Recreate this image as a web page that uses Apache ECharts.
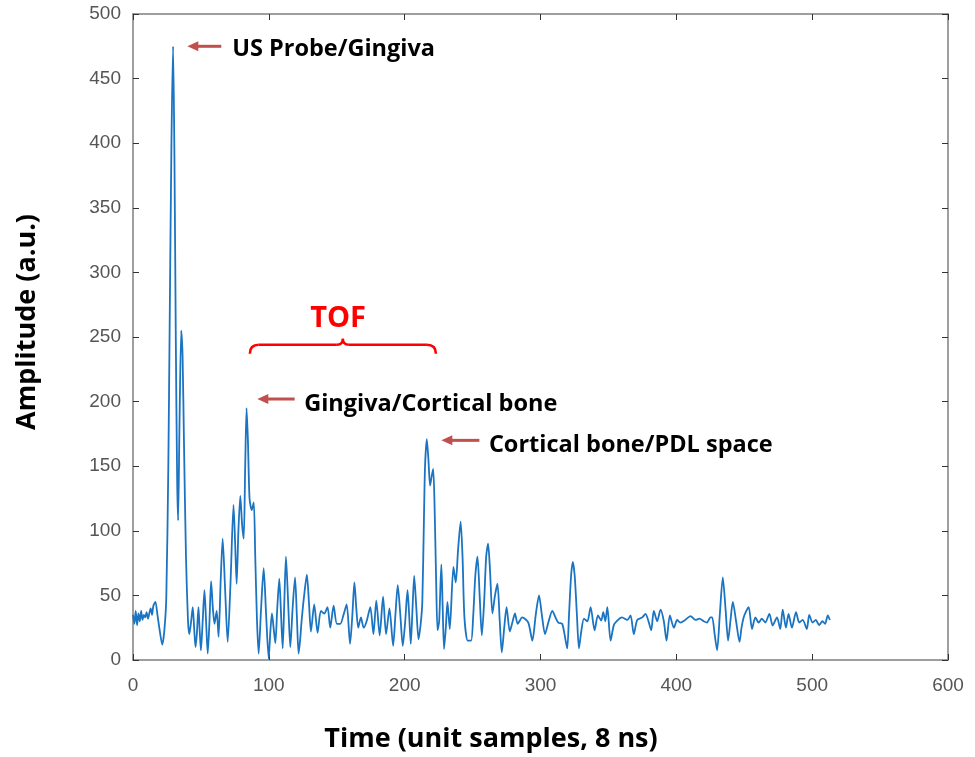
<!DOCTYPE html>
<html>
<head>
<meta charset="utf-8">
<script src="https://cdn.jsdelivr.net/npm/echarts@6/dist/echarts.min.js"></script>
<style>
html,body{margin:0;padding:0;background:#fff;}
#chart{width:975px;height:757px;}
</style>
</head>
<body>
<div id="chart"></div>
<script>
// ---- data ----
const times = [0,1,2,3,4,5,6,7,8,9,10,11,12,13,14,15,16.5,18,19.5,21.5,23,24.5,26,27,28.3,29.5,30.5,31.5,32.5,33.2,34.2,35.5,36.5,37.5,39,40.5,41.5,
42.8,44,45,46,47,48.2,49,50,51.3,52.6,53.8,55,56.3,57.5,58.8,60,61.6,63,64.5,66,67.8,69.7,71.8,74,75.2,76.3,77.6,79,80.3,81.5,82.6,83.6,84.6,85.8,87.4,88.9,90,91.3,92.5,94.3,96.2,98,99.9,101,102.3,103.5,104.8,106.2,107.7,109,110.2,111.4,112.6,114.2,115.8,117.5,119.3,120.6,121.9,123,124.1,126,128,129.5,131,133.4,135.9,138.3,140.8,143.2,145.2,147.7,150.1,152.6,155,157.3,159.8,161.5,163,164.4,165.8,167.8,169.8,172,174.7,177,179.1,181.6,184.1,186.3,188.8,191.5,193.2,194.9,196.8,198.6,200.4,202.1,203.3,204.5,205.8,207,208.6,210.2,211.9,213,214.2,215,216.3,217.5,218.7,220,221,222,223.2,224.2,225.4,227,228,229,230.3,231.5,233.2,235.9,237.6,239.3,241.2,242.6,244,246.4,248.9,250.5,252,253.6,255.2,256.8,258.5,260,261.4,262.8,264.6,266.5,268.3,270,271.5,273.3,275,277.4,279.5,281.2,283.2,286.6,291,294,296.5,298.9,301,303.3,306,308.7,311,313.1,316,318.5,319.7,321,322.5,323.8,325.2,326.8,328.3,330,332,334.5,336.9,339.8,342.3,344.7,346.2,347.7,349.2,351.6,354,356.5,360,363.9,366.3,368.7,371.2,374.9,377.3,379.5,381.5,383.4,385.9,388.4,390.8,392.8,395.2,398.2,400.6,403,406.5,410.4,414.1,417,420.2,422.6,425.1,426.4,428.2,430,432,434.2,436.2,438.1,439.8,441.6,444,446.5,448,449.6,451.5,453.3,455.7,458.2,460.6,463,465.5,468.5,470.9,474.1,476.5,478.3,480.7,482.6,485.1,488.1,490.5,493,496.1,497.8,500.3,502.7,505.1,507.6,509.5,511.5,513];
const amps = [35,28,38,27,36,30,38,31,35,33,37,32,36,40,35,42,45,35,24,12,22,48,150,260,400,475,390,250,140,108,180,255,235,170,80,30,20,
30,41,25,10,20,41,25,7.5,30,54,30,5,30,61,40,28,38,18,60,94,55,14,60,120,90,59,100,127,105,94,150,195,170,125,116,122,80,30,5,40,71,35,1,20,36,25,13,40,63,35,9,45,80,45,10,40,64,35,5,15,30,50,66,45,22,43,21,38,36,41,25,42,28,28,35,43,12.5,35,60,40,25,33,25,30,41,20,46,19,49,20,40,11,35,58,35,11,30,54,35,12.5,40,65,40,16,29,45,110,150,171,155,135,143,148,120,60,23,30,74,40,8.5,25,45,24,72,60,85,107,80,33,15,15,35,65,80,50,19,45,80,90,70,36,50,59,30,6,25,41,22,30,36,28,33,29,15,35,50,35,20,30,38,33,29,28,15,9,35,65,76,65,35,9,22,32,30,41,23,34.5,30.5,37,30,41,15,27,30.5,33,31,34.5,20,31,33,35.7,30,23,38,30,39,30,15,34.5,25,31,29,31,34,31,32,30,29,33,33,20,7.4,35,64,40,15,30,45,30,14,25,33,38,41,24,33,29,32,29,35.7,26.7,33,24,39,25,35.7,25,37,29,31,24,35,29,31,27,30,28,34.5,31];
const xTicks = [0,100,200,300,400,500,600];
const yTicks = [0,50,100,150,200,250,300,350,400,450,500];
const xTitle = 'Time (unit samples, 8 ns)';
const yTitle = 'Amplitude (a.u.)';
// annotations: [label, arrowFromX, arrowToX, arrowY, textX, textY]
const notes = [
  ['US Probe/Gingiva', 65, 40, 475, 73, 473],
  ['Gingiva/Cortical bone', 119, 91.5, 202, 126, 198],
  ['Cortical bone/PDL space', 255, 227, 170, 262, 166]
];
const tof = {label:'TOF', x1:86, x2:223, y:241, tx:151, ty:264};

const seriesData = times.map((t,i)=>[t, amps[i]]);
const chart = echarts.init(document.getElementById('chart'));
const frameColor = '#7f7f7f';
const axisCommon = {
  min:0, interval:100,
  axisLine:{show:true, onZero:false, lineStyle:{color:frameColor, width:1.5}},
  axisTick:{show:true, inside:true, length:6, lineStyle:{color:'#333', width:1}},
  splitLine:{show:false}
};
chart.setOption({
  animation:false,
  grid:{left:133, right:27, top:14, bottom:97, show:false},
  xAxis:[
    Object.assign({}, axisCommon, {type:'value', max:600, position:'bottom',
      axisLabel:{fontFamily:'Liberation Sans', fontSize:19, color:'#555', margin:16}}),
    Object.assign({}, axisCommon, {type:'value', max:600, position:'top', axisLabel:{show:false}})
  ],
  yAxis:[
    Object.assign({}, axisCommon, {type:'value', max:500, interval:50, position:'left',
      axisLabel:{fontFamily:'Liberation Sans', fontSize:19, color:'#555', margin:12}}),
    Object.assign({}, axisCommon, {type:'value', max:500, interval:50, position:'right', axisLabel:{show:false}})
  ],
  series:[{
    type:'line', data:seriesData, showSymbol:false, smooth:0.25,
    lineStyle:{color:'#1a74c2', width:1.8}, xAxisIndex:0, yAxisIndex:0
  }]
});

function px(x,y){ return chart.convertToPixel({xAxisIndex:0, yAxisIndex:0}, [x,y]); }
const arrowColor = '#c0504d';
const g = [];
// axis titles
g.push({type:'text', x:491, y:739, style:{text:xTitle, fontFamily:'Open Sans', fontWeight:'bold', fontSize:27, fill:'#000', align:'center', verticalAlign:'middle'}});
g.push({type:'text', x:27, y:322, rotation:Math.PI/2, style:{text:yTitle, fontFamily:'Open Sans', fontWeight:'bold', fontSize:27, fill:'#000', align:'center', verticalAlign:'middle'}});
notes.forEach(n=>{
  const a = px(n[1], n[3]), b = px(n[2], n[3]);
  g.push({type:'line', shape:{x1:a[0], y1:a[1], x2:b[0]+9, y2:b[1]}, style:{stroke:arrowColor, lineWidth:3}});
  g.push({type:'polygon', shape:{points:[[b[0],b[1]],[b[0]+11,b[1]-5],[b[0]+11,b[1]+5]]}, style:{fill:arrowColor}});
  const t = px(n[4], n[5]);
  g.push({type:'text', x:t[0], y:t[1], style:{text:n[0], fontFamily:'Open Sans', fontWeight:'bold', fontSize:23.5, fill:'#000', verticalAlign:'middle', align:'left'}});
});
const l = px(tof.x1, tof.y), r = px(tof.x2, tof.y), m = px((tof.x1+tof.x2)/2, tof.y);
const y0 = l[1] - 4;
const braceStyle = {stroke:'#ff0000', lineWidth:2.5, fill:null};
g.push({type:'bezierCurve', shape:{x1:l[0], y1:y0+9, cpx1:l[0], cpy1:y0, x2:l[0]+9, y2:y0}, style:braceStyle});
g.push({type:'line', shape:{x1:l[0]+9, y1:y0, x2:m[0]-6, y2:y0}, style:braceStyle});
g.push({type:'bezierCurve', shape:{x1:m[0]-6, y1:y0, cpx1:m[0], cpy1:y0, x2:m[0], y2:y0-6}, style:braceStyle});
g.push({type:'bezierCurve', shape:{x1:m[0], y1:y0-6, cpx1:m[0], cpy1:y0, x2:m[0]+6, y2:y0}, style:braceStyle});
g.push({type:'line', shape:{x1:m[0]+6, y1:y0, x2:r[0]-9, y2:y0}, style:braceStyle});
g.push({type:'bezierCurve', shape:{x1:r[0]-9, y1:y0, cpx1:r[0], cpy1:y0, x2:r[0], y2:y0+9}, style:braceStyle});
const tp = px(tof.tx, tof.ty);
g.push({type:'text', x:tp[0], y:tp[1], style:{text:tof.label, fontFamily:'Open Sans', fontWeight:'bold', fontSize:29, fill:'#ff0000', align:'center', verticalAlign:'middle'}});
chart.setOption({graphic:g});
</script>
</body>
</html>
